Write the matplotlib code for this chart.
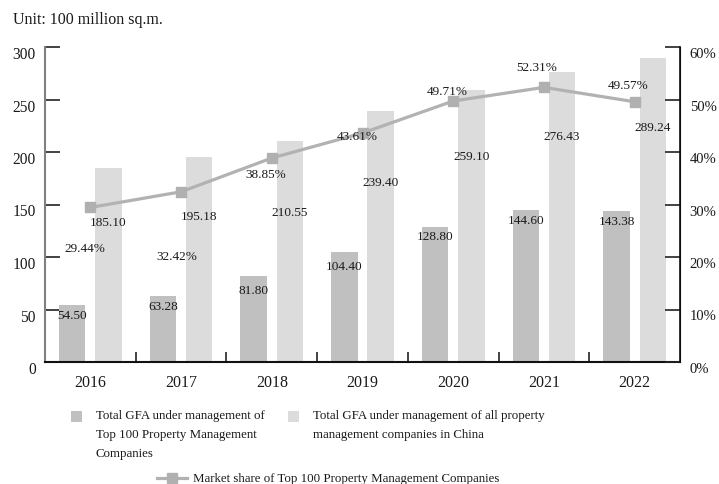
import matplotlib
matplotlib.use("Agg")
import matplotlib.pyplot as plt
import matplotlib.transforms as mtransforms
from matplotlib.patches import Rectangle
from matplotlib.lines import Line2D
import numpy as np

plt.rcParams['font.family'] = ['Liberation Serif', 'DejaVu Serif']

years = ['2016', '2017', '2018', '2019', '2020', '2021', '2022']
top100_gfa = [54.50, 63.28, 81.80, 104.40, 128.80, 144.60, 143.38]
all_gfa = [185.10, 195.18, 210.55, 239.40, 259.10, 276.43, 289.24]
market_share = [29.44, 32.42, 38.85, 43.61, 49.71, 52.31, 49.57]

legend_top100 = 'Total GFA under management of\nTop 100 Property Management\nCompanies'
legend_all = 'Total GFA under management of all property\nmanagement companies in China'
legend_share = 'Market share of Top 100 Property Management Companies'

# label placement offsets (pixels)
dark_label_dy = [-10, -10, -14, -14, -9, -10, -10]
light_label_dy = [-54, -59, -71, -71, -66, -64, -69]
share_label_dx = [-5, -4, -6, -5, -6, -7, -7]
share_label_dy = [-41, -64, -16, -3, 10, 20, 17]

DARK = '#c0c0c1'
LIGHT = '#dcdcdd'
LINEC = '#b2b2b3'
TXT = '#1a1a1a'

fig = plt.figure(figsize=(7.19, 4.85), dpi=100)
ax = fig.add_axes([45/719, 1-363/485, (680-45)/719, (363-48)/485])
ax2 = ax.twinx()

x = np.arange(len(years))
w = 0.29
ax.bar(x - 0.2, top100_gfa, width=w, color=DARK, zorder=2)
ax.bar(x + 0.2, all_gfa, width=w, color=LIGHT, zorder=2)

ax.set_xlim(-0.5, len(years) - 0.5)
ax.set_ylim(0, 300)
ax.set_yticks(np.arange(0, 301, 50))
ax2.set_ylim(0, 60)
ax2.set_yticks(np.arange(0, 61, 10))
ax2.set_yticklabels([f'{v}%' for v in range(0, 61, 10)])

ax.set_xticks(x)
ax.set_xticklabels(years, fontsize=11.5, color=TXT)
ax.set_xticks(np.arange(0.5, len(years) - 0.5, 1), minor=True)
ax.tick_params(axis='x', which='major', length=0, pad=8.5)
ax.tick_params(axis='x', which='minor', length=7.5, width=1.2, direction='in', color='#222222')
ax.tick_params(axis='y', length=11, width=1.2, direction='in', labelsize=11.2, pad=6.5,
               color='#222222', labelcolor=TXT)
ax2.tick_params(axis='y', length=11, width=1.2, direction='in', labelsize=10.5, pad=7,
                color='#222222', labelcolor=TXT)

for a in (ax, ax2):
    a.spines['top'].set_visible(False)
ax.spines['left'].set_color('#808080')
ax.spines['left'].set_linewidth(1.5)
ax.spines['bottom'].set_color('#111111')
ax.spines['bottom'].set_linewidth(1.5)
ax2.spines['left'].set_visible(False)
ax2.spines['bottom'].set_visible(False)
ax2.spines['right'].set_color('#111111')
ax2.spines['right'].set_linewidth(1.2)

off = mtransforms.ScaledTranslation(0, -5/100, fig.dpi_scale_trans)
for lab in ax.get_yticklabels() + ax2.get_yticklabels():
    lab.set_transform(lab.get_transform() + off)

ax2.plot(x, market_share, color=LINEC, lw=2.3, marker='s', markersize=7.5,
         markerfacecolor='#b0b0b1', markeredgecolor='#b0b0b1', zorder=3)

pt = 72 / 100
for i, v in enumerate(top100_gfa):
    ax.annotate(f'{v:.2f}', (x[i] - 0.2, v), xytext=(0, dark_label_dy[i] * pt),
                textcoords='offset points', ha='center', va='center', fontsize=9.5, color=TXT, zorder=5)
for i, v in enumerate(all_gfa):
    ax.annotate(f'{v:.2f}', (x[i] + 0.2, v), xytext=(0, light_label_dy[i] * pt),
                textcoords='offset points', ha='center', va='center', fontsize=9.5, color=TXT, zorder=5)
for i, v in enumerate(market_share):
    ax2.annotate(f'{v:.2f}%', (x[i], v), xytext=(share_label_dx[i] * pt, share_label_dy[i] * pt),
                 textcoords='offset points', ha='center', va='center', fontsize=9.5, color=TXT, zorder=5)

fig.text(13/719, 1-20/485, 'Unit: 100 million sq.m.', fontsize=11.5, ha='left', va='center', color=TXT)

# legend (manual)
def fx(px): return px / 719
def fy(py): return 1 - py / 485

fig.patches.append(Rectangle((fx(71), fy(423)), 11/719, 11/485, transform=fig.transFigure,
                             facecolor=DARK, edgecolor='none'))
fig.text(fx(96), fy(410), legend_top100, fontsize=9.3, ha='left', va='top',
         linespacing=1.78, color=TXT)
fig.patches.append(Rectangle((fx(288), fy(423)), 11/719, 11/485, transform=fig.transFigure,
                             facecolor=LIGHT, edgecolor='none'))
fig.text(fx(313), fy(410), legend_all, fontsize=9.3, ha='left', va='top',
         linespacing=1.78, color=TXT)
fig.lines.append(Line2D([fx(157), fx(187)], [fy(479), fy(479)], transform=fig.transFigure,
                        color=LINEC, lw=2.3))
fig.lines.append(Line2D([fx(172)], [fy(479)], transform=fig.transFigure, marker='s',
                        markersize=7, color='#b0b0b1', lw=0))
fig.text(fx(193), fy(479), legend_share, fontsize=9.3, ha='left', va='center', color=TXT)

fig.savefig('out.png', dpi=100)
